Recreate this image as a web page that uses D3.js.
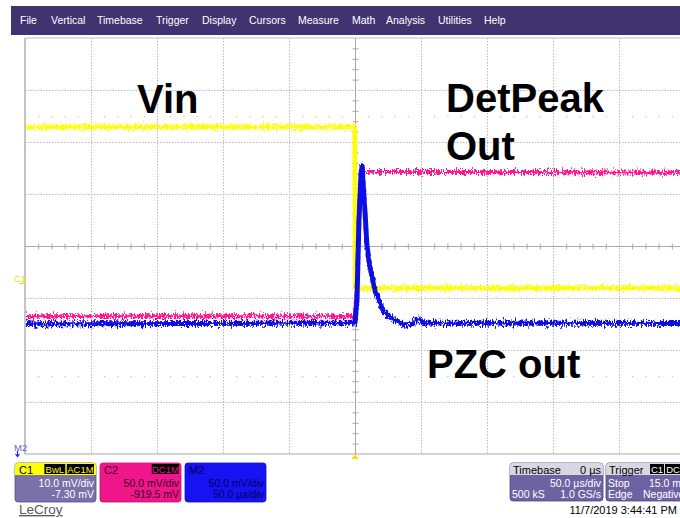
<!DOCTYPE html>
<html>
<head>
<meta charset="utf-8">
<script src="https://cdn.jsdelivr.net/npm/d3@7"></script>
<style>
  html, body { margin: 0; padding: 0; background: #ffffff; }
  svg { display: block; font-family: "Liberation Sans", Arial, sans-serif; }
</style>
</head>
<body>
<svg id="scope" width="680" height="518"></svg>
<script>
// ---- menu ----
const menuItems = ["File", "Vertical", "Timebase", "Trigger", "Display", "Cursors",
                   "Measure", "Math", "Analysis", "Utilities", "Help"];
const menuX = [20, 51, 97, 156, 202, 249, 298, 352, 386, 438, 484];

// ---- acquisition settings ----
const timePerDiv = 50;          // µs/div
const timeDivs = 10;
const voltDivs = 8;
const c1Scale = 10,  c1Offset = -7.30;   // mV/div, mV
const c2Scale = 50,  c2Offset = -919.5;
const m2Scale = 50,  m2Offset = 0;

// ---- traces (time in µs, value in mV) ----
const vinTime = [-250, -0.2, 0.2, 250];
const vinMv   = [30.2, 30.2, -0.8, -0.8];

const detTime = [-250, 0, 1.5, 3.0, 4.5, 5.3, 8, 250];
const detMv   = [852, 852, 880, 945, 985, 994, 991, 990];

const pzcTime = [-250, 0, 1.5, 3.0, 4.5, 5.3, 6.8, 9.1, 11.4, 15.2, 21.2, 26.5, 31.8, 37.9, 43.2, 47.7, 53.0, 250];
const pzcMv   = [-75, -74.0, -51.9, 25.0, 68.3, 76.9, 49.0, -1.0, -21.2, -42.3, -61.5, -68.3, -72.1, -76.0, -75.0, -70.2, -74.0, -74.5];

// ---- readout panels ----
const chanLabels = ["C1", "C2", "M2"];
const chanBadges = [["BwL", "AC1M"], ["DC1M"], []];
const chanLine1  = ["10.0 mV/div", "50.0 mV/div", "50.0 mV/div"];
const chanLine2  = ["-7.30 mV", "-919.5 mV", "50.0 µs/div"];
const timebaseText = ["Timebase", "0 µs", "50.0 µs/div", "500 kS", "1.0 GS/s"];
const triggerText  = ["Trigger", "C1", "DC", "Stop", "15.0 mV", "Edge", "Negative"];
const stamp = "11/7/2019 3:44:41 PM";

const svg = d3.select("#scope");

// noise texture for the acquired traces (vertical jitter only)
const defs = svg.append("defs");
const f = defs.append("filter").attr("id", "jitter")
  .attr("filterUnits", "userSpaceOnUse")
  .attr("x", 0).attr("y", 30).attr("width", 700).attr("height", 440);
f.append("feTurbulence").attr("type", "fractalNoise")
  .attr("baseFrequency", "0.9 0.3").attr("numOctaves", 2).attr("seed", 7).attr("result", "n");
f.append("feColorMatrix").attr("in", "n").attr("type", "matrix")
  .attr("values", "1 0 0 0 0  0 0 0 0 0.5  0 0 0 0 0  0 0 0 0 1").attr("result", "ny");
f.append("feDisplacementMap").attr("in", "SourceGraphic").attr("in2", "ny")
  .attr("scale", 11).attr("xChannelSelector", "G").attr("yChannelSelector", "R");
defs.append("clipPath").attr("id", "plotClip")
  .append("rect").attr("x", 26).attr("y", 38).attr("width", 660).attr("height", 416);

// ---- menu bar ----
svg.append("rect").attr("x", 11).attr("y", 6).attr("width", 669).attr("height", 29).attr("fill", "#40336f");
svg.selectAll("text.menu").data(menuItems).join("text")
  .attr("class", "menu")
  .attr("x", (d, i) => menuX[i]).attr("y", 24)
  .attr("fill", "#ffffff").attr("font-size", 10.5)
  .text(d => d);

// ---- graticule ----
const plotLeft = 25, plotTop = 38, divW = 66, divH = 52;
const x = d3.scaleLinear().domain([-timePerDiv * timeDivs / 2, timePerDiv * timeDivs / 2])
  .range([plotLeft, plotLeft + divW * timeDivs]);
const yDiv = d3.scaleLinear().domain([-voltDivs / 2, voltDivs / 2]).range([plotTop + divH * voltDivs, plotTop]);
const cx = x(0), cy = yDiv(0);
const plotBottom = yDiv(-voltDivs / 2);

const grid = svg.append("g");
// frame
grid.append("line").attr("x1", plotLeft).attr("x2", plotLeft).attr("y1", plotTop).attr("y2", plotBottom)
  .attr("stroke", "#c4c4c4").attr("stroke-width", 2);
grid.append("line").attr("x1", plotLeft).attr("x2", 680).attr("y1", plotTop).attr("y2", plotTop)
  .attr("stroke", "#d4d4d4").attr("stroke-width", 1.5);
grid.append("line").attr("x1", plotLeft).attr("x2", 680).attr("y1", plotBottom).attr("y2", plotBottom)
  .attr("stroke", "#c4c4c4").attr("stroke-width", 1.5);

// dotted division lines
const vDivs = d3.range(-3, 4).filter(d => d !== 0);
grid.selectAll("line.h").data(vDivs).join("line").attr("class", "h")
  .attr("x1", plotLeft).attr("x2", 680)
  .attr("y1", d => yDiv(d) + 0.5).attr("y2", d => yDiv(d) + 0.5)
  .attr("stroke", "#b8b8b8").attr("stroke-dasharray", "1.5,1.5");
const tDivs = d3.range(-4, 6).filter(d => d !== 0).map(d => d * timePerDiv);
grid.selectAll("line.v").data(tDivs).join("line").attr("class", "v")
  .attr("x1", d => x(d) + 0.5).attr("x2", d => x(d) + 0.5)
  .attr("y1", plotTop).attr("y2", plotBottom)
  .attr("stroke", "#b8b8b8").attr("stroke-dasharray", "1.5,1.5");

// centre cross with minor ticks
grid.append("line").attr("x1", plotLeft).attr("x2", 680).attr("y1", cy + 0.5).attr("y2", cy + 0.5)
  .attr("stroke", "#a8a8a8");
grid.append("line").attr("x1", cx + 0.5).attr("x2", cx + 0.5).attr("y1", plotTop).attr("y2", plotBottom)
  .attr("stroke", "#a8a8a8");
const minorT = d3.range(-25, 26).filter(d => d % 5 !== 0).map(d => d * timePerDiv / 5);
grid.selectAll("line.mt").data(minorT).join("line").attr("class", "mt")
  .attr("x1", d => x(d) + 0.5).attr("x2", d => x(d) + 0.5)
  .attr("y1", cy - 2.5).attr("y2", cy + 3.5).attr("stroke", "#a8a8a8");
const minorV = d3.range(-20, 21).filter(d => d % 5 !== 0).map(d => d / 5);
grid.selectAll("line.mv").data(minorV).join("line").attr("class", "mv")
  .attr("x1", cx - 2.5).attr("x2", cx + 3.5)
  .attr("y1", d => yDiv(d) + 0.5).attr("y2", d => yDiv(d) + 0.5).attr("stroke", "#a8a8a8");
// dotted minor markers at ±2.5 div
[2.5, -2.5].forEach(v => {
  grid.append("g").selectAll("rect").data(minorT).join("rect")
    .attr("x", d => x(d)).attr("y", yDiv(v)).attr("width", 1).attr("height", 1.2)
    .attr("fill", "#b0b0b0");
});

// ---- traces ----
const traces = svg.append("g").attr("clip-path", "url(#plotClip)");
function drawTrace(times, values, scale, offset, color, width) {
  const pts = times.map((t, i) => [x(t), yDiv((values[i] + offset) / scale)]);
  traces.append("path")
    .attr("d", d3.line()(pts))
    .attr("fill", "none").attr("stroke", color).attr("stroke-width", width)
    .attr("stroke-linejoin", "round")
    .attr("filter", "url(#jitter)");
}
drawTrace(vinTime, vinMv, c1Scale, c1Offset, "#ffff00", 4.5);
drawTrace(detTime, detMv, c2Scale, c2Offset, "#ff1493", 4);
drawTrace(pzcTime, pzcMv, m2Scale, m2Offset, "#0a0ae6", 5);

// ---- annotations ----
const notes = [["Vin", 137, 113], ["DetPeak", 446, 112], ["Out", 446, 160], ["PZC out", 427, 378]];
svg.selectAll("text.note").data(notes).join("text").attr("class", "note")
  .attr("x", d => d[1]).attr("y", d => d[2])
  .attr("font-size", 40).attr("font-weight", "bold").attr("fill", "#000000")
  .text(d => d[0]);

// ---- channel markers ----
svg.append("text").attr("x", 14).attr("y", 282).attr("font-size", 9.5).attr("fill", "#e6e600").text("C1");
svg.append("line").attr("x1", 19).attr("x2", 25).attr("y1", 283.5).attr("y2", 283.5).attr("stroke", "#e6e600");
svg.append("text").attr("x", 14).attr("y", 451).attr("font-size", 9.5).attr("fill", "#6a5ae6").text("M2");
svg.append("path").attr("d", "M17.5,451 V456 M15.5,454 L17.5,456.5 L19.5,454")
  .attr("stroke", "#2020e0").attr("fill", "none").attr("stroke-width", 1.2);
// trigger position
svg.append("path").attr("d", `M${cx - 3.5},459 L${cx + 3.5},459 L${cx},454 Z`).attr("fill", "#f0e000");

// ---- readout panels ----
const panelX = [15, 100, 185];
const panelFill = ["#7a70aa", "#ee168a", "#1712f2"];
const headFill  = ["#ffff00", "#ee168a", "#1712f2"];
const headText  = ["#000000", "#3a0020", "#00005a"];
const bodyText  = ["#ffffff", "#3a0020", "#00005a"];
const badgeText = ["#ffff00", "#ee168a", "#ffffff"];
chanLabels.forEach((lab, i) => {
  const g = svg.append("g").attr("transform", `translate(${panelX[i]},463)`);
  g.append("rect").attr("width", 81).attr("height", 39).attr("rx", 3)
    .attr("fill", panelFill[i]).attr("stroke", d3.color(panelFill[i]).darker(0.8)).attr("stroke-width", 0.8);
  g.append("path").attr("d", "M0,3 Q0,0 3,0 H78 Q81,0 81,3 V12 H0 Z").attr("fill", headFill[i]);
  g.append("text").attr("x", 4).attr("y", 10.5).attr("font-size", 11).attr("fill", headText[i]).text(lab);
  let bx = 79;
  chanBadges[i].slice().reverse().forEach(b => {
    const w = b.length * 6.3 + 2;
    bx -= w;
    g.append("rect").attr("x", bx).attr("y", 1).attr("width", w).attr("height", 10).attr("fill", "#000000");
    g.append("text").attr("x", bx + w / 2).attr("y", 9.7).attr("text-anchor", "middle")
      .attr("font-size", 9.5).attr("fill", badgeText[i]).text(b);
    bx -= 1.5;
  });
  g.append("text").attr("x", 79).attr("y", 24).attr("text-anchor", "end")
    .attr("font-size", 10.5).attr("fill", bodyText[i]).text(chanLine1[i]);
  g.append("text").attr("x", 79).attr("y", 35).attr("text-anchor", "end")
    .attr("font-size", 10.5).attr("fill", bodyText[i]).text(chanLine2[i]);
});

// timebase
{
  const g = svg.append("g").attr("transform", "translate(510,463)");
  g.append("rect").attr("width", 93).attr("height", 38).attr("rx", 3).attr("fill", "#6e63a2")
    .attr("stroke", "#4e4580").attr("stroke-width", 0.8);
  g.append("path").attr("d", "M0,3 Q0,0 3,0 H90 Q93,0 93,3 V12 H0 Z").attr("fill", "#d8d8e2");
  g.append("text").attr("x", 3).attr("y", 10.5).attr("font-size", 11).text(timebaseText[0]);
  g.append("text").attr("x", 91).attr("y", 10.5).attr("font-size", 11).attr("text-anchor", "end").text(timebaseText[1]);
  g.append("text").attr("x", 91).attr("y", 24).attr("font-size", 10.5).attr("text-anchor", "end").attr("fill", "#fff").text(timebaseText[2]);
  g.append("text").attr("x", 2).attr("y", 35).attr("font-size", 10.5).attr("fill", "#fff").text(timebaseText[3]);
  g.append("text").attr("x", 91).attr("y", 35).attr("font-size", 10.5).attr("text-anchor", "end").attr("fill", "#fff").text(timebaseText[4]);
}
// trigger (panel runs past the right edge of the display)
{
  const g = svg.append("g").attr("transform", "translate(606,463)");
  g.append("rect").attr("width", 90).attr("height", 38).attr("rx", 3).attr("fill", "#6e63a2")
    .attr("stroke", "#4e4580").attr("stroke-width", 0.8);
  g.append("path").attr("d", "M0,3 Q0,0 3,0 H87 Q90,0 90,3 V12 H0 Z").attr("fill", "#d8d8e2");
  g.append("text").attr("x", 3).attr("y", 10.5).attr("font-size", 11).text(triggerText[0]);
  g.append("rect").attr("x", 44).attr("y", 1).attr("width", 14).attr("height", 10).attr("fill", "#000");
  g.append("text").attr("x", 51).attr("y", 9.7).attr("text-anchor", "middle").attr("font-size", 9.5).attr("fill", "#fff").text(triggerText[1]);
  g.append("rect").attr("x", 59).attr("y", 1).attr("width", 16).attr("height", 10).attr("fill", "#000");
  g.append("text").attr("x", 67).attr("y", 9.7).attr("text-anchor", "middle").attr("font-size", 9.5).attr("fill", "#fff").text(triggerText[2]);
  g.append("text").attr("x", 2).attr("y", 24).attr("font-size", 10.5).attr("fill", "#fff").text(triggerText[3]);
  g.append("text").attr("x", 43).attr("y", 24).attr("font-size", 10.5).attr("fill", "#fff").text(triggerText[4]);
  g.append("text").attr("x", 2).attr("y", 35).attr("font-size", 10.5).attr("fill", "#fff").text(triggerText[5]);
  g.append("text").attr("x", 37).attr("y", 35).attr("font-size", 10.5).attr("fill", "#fff").text(triggerText[6]);
}

// footer
svg.append("text").attr("x", 19).attr("y", 514).attr("font-size", 13.5).attr("fill", "#5a5a5a")
  .attr("text-decoration", "underline").text("LeCroy");
svg.append("text").attr("x", 677).attr("y", 514).attr("text-anchor", "end").attr("font-size", 11)
  .attr("fill", "#000").text(stamp);
</script>
</body>
</html>
